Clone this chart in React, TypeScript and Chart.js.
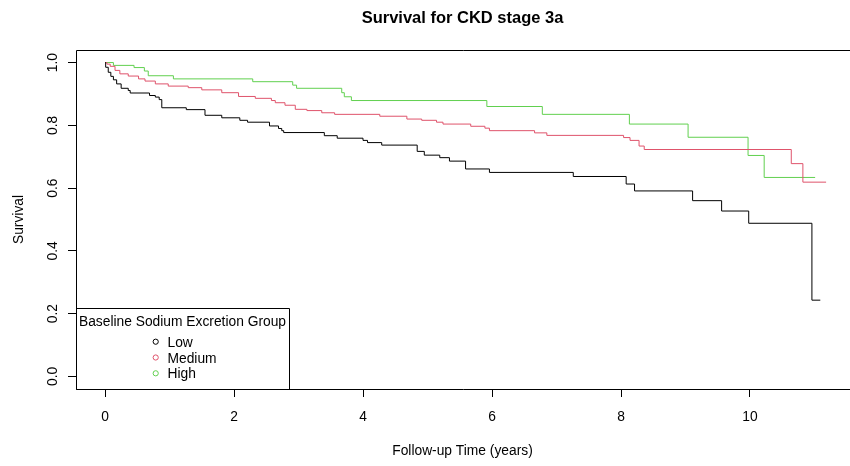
import React, { useEffect, useRef } from 'react';
import { Chart, registerables } from 'chart.js';

Chart.register(...registerables);

const chartTitle = 'Survival for CKD stage 3a';
const xAxisTitle = 'Follow-up Time (years)';
const yAxisTitle = 'Survival';
const legendTitle = 'Baseline Sodium Excretion Group';
const groupNames = ['Low', 'Medium', 'High'];
const groupColors = ['#000000', '#DF536B', '#61D04F'];
const xTickValues = [0, 2, 4, 6, 8, 10];
const yTickValues = [0, 0.2, 0.4, 0.6, 0.8, 1.0];

const lowTimes = [0, 0.01, 0.05, 0.09, 0.13, 0.18, 0.25, 0.36, 0.39, 0.69, 0.78, 0.84, 0.88, 1.26, 1.55, 1.81, 2.09, 2.21, 2.55, 2.69, 2.74, 2.77, 3.40, 3.60, 4.00, 4.07, 4.29, 4.84, 4.95, 5.19, 5.34, 5.59, 5.96, 7.26, 8.08, 8.21, 9.11, 9.56, 9.98, 10.96, 11.09];
const lowSurv = [1, 0.985, 0.969, 0.956, 0.945, 0.932, 0.918, 0.911, 0.903, 0.895, 0.890, 0.882, 0.856, 0.850, 0.832, 0.824, 0.816, 0.810, 0.798, 0.790, 0.783, 0.777, 0.767, 0.759, 0.752, 0.745, 0.737, 0.717, 0.705, 0.697, 0.686, 0.661, 0.650, 0.637, 0.613, 0.591, 0.560, 0.527, 0.488, 0.243, 0.243];

const mediumTimes = [0, 0.03, 0.08, 0.155, 0.23, 0.36, 0.52, 0.62, 0.78, 0.98, 1.29, 1.50, 1.81, 2.07, 2.33, 2.58, 2.64, 2.79, 2.95, 3.13, 3.36, 3.56, 4.26, 4.68, 4.91, 5.14, 5.24, 5.67, 5.89, 5.96, 6.66, 6.85, 8.04, 8.14, 8.28, 8.36, 10.64, 10.82, 11.18];
const mediumSurv = [1, 0.995, 0.988, 0.975, 0.964, 0.957, 0.948, 0.941, 0.932, 0.925, 0.920, 0.913, 0.904, 0.892, 0.886, 0.879, 0.872, 0.864, 0.851, 0.847, 0.840, 0.835, 0.829, 0.820, 0.816, 0.810, 0.804, 0.797, 0.791, 0.783, 0.776, 0.768, 0.761, 0.752, 0.734, 0.723, 0.678, 0.619, 0.619];

const highTimes = [0, 0.13, 0.45, 0.61, 0.67, 1.06, 2.29, 2.91, 2.97, 3.67, 3.71, 3.82, 5.92, 6.78, 8.13, 9.04, 9.97, 10.22, 11.01];
const highSurv = [1, 0.991, 0.984, 0.973, 0.958, 0.948, 0.939, 0.928, 0.918, 0.904, 0.891, 0.879, 0.860, 0.835, 0.804, 0.762, 0.704, 0.634, 0.634];

const FONT = '"Liberation Sans", Arial, Helvetica, sans-serif';

function toPoints(times: number[], surv: number[]) {
  return times.map((t, i) => ({ x: t, y: surv[i] }));
}

const decorPlugin = {
  id: 'decor',
  afterDraw(chart: any) {
    const ctx: CanvasRenderingContext2D = chart.ctx;
    const { left, top, right, bottom } = chart.chartArea;
    const xs = chart.scales.x;
    const ys = chart.scales.y;
    ctx.save();
    ctx.strokeStyle = '#000';
    ctx.lineWidth = 1;
    // plot box (right side lies beyond the picture)
    ctx.beginPath();
    ctx.moveTo(right + 30, top + 0.5);
    ctx.lineTo(left + 0.5, top + 0.5);
    ctx.lineTo(left + 0.5, bottom + 0.5);
    ctx.lineTo(right + 30, bottom + 0.5);
    ctx.stroke();

    ctx.fillStyle = '#000';
    // x tick labels
    ctx.font = `13.8px ${FONT}`;
    ctx.textAlign = 'center';
    ctx.textBaseline = 'alphabetic';
    xs.ticks.forEach((tk: any) => {
      ctx.fillText(String(tk.value), xs.getPixelForValue(tk.value), 421);
    });
    // y tick labels (rotated)
    ys.ticks.forEach((tk: any) => {
      ctx.save();
      ctx.translate(57, ys.getPixelForValue(tk.value));
      ctx.rotate(-Math.PI / 2);
      ctx.fillText(tk.value.toFixed(1), 0, 0);
      ctx.restore();
    });
    // axis titles
    ctx.fillText(xAxisTitle, (left + right) / 2, 455);
    ctx.save();
    ctx.translate(23, (top + bottom) / 2);
    ctx.rotate(-Math.PI / 2);
    ctx.fillText(yAxisTitle, 0, 0);
    ctx.restore();
    // main title
    ctx.font = `bold 16.5px ${FONT}`;
    ctx.fillText(chartTitle, (left + right) / 2, 23);

    // legend
    const lgRight = 289;
    const lgTop = 308;
    ctx.beginPath();
    ctx.rect(left + 0.5, lgTop + 0.5, lgRight - left, bottom - lgTop);
    ctx.stroke();
    ctx.font = `13.8px ${FONT}`;
    ctx.fillText(legendTitle, (left + lgRight) / 2, 326);
    ctx.textAlign = 'left';
    chart.data.datasets.forEach((ds: any, i: number) => {
      const cy = 341.7 + i * 15.8;
      ctx.beginPath();
      ctx.strokeStyle = ds.borderColor;
      ctx.arc(155.7, cy, 2.6, 0, Math.PI * 2);
      ctx.stroke();
      ctx.fillStyle = '#000';
      ctx.fillText(ds.label, 167.5, cy + 5);
    });
    ctx.restore();
  },
};

export default function App() {
  const canvasRef = useRef<HTMLCanvasElement | null>(null);

  useEffect(() => {
    if (!canvasRef.current) return;
    const series = [
      toPoints(lowTimes, lowSurv),
      toPoints(mediumTimes, mediumSurv),
      toPoints(highTimes, highSurv),
    ];
    const chart = new Chart(canvasRef.current, {
      type: 'line',
      data: {
        datasets: series.map((pts, i) => ({
          label: groupNames[i],
          data: pts,
          borderColor: groupColors[i],
          backgroundColor: groupColors[i],
          borderWidth: 1,
          pointRadius: 0,
          stepped: true,
          fill: false,
          tension: 0,
        })),
      },
      options: {
        responsive: false,
        animation: false,
        devicePixelRatio: 1,
        layout: { padding: { left: 0, right: 1, top: 50, bottom: 0 } },
        plugins: {
          legend: { display: false },
          title: { display: false },
          tooltip: { enabled: false },
        },
        scales: {
          x: {
            type: 'linear',
            min: -0.45,
            max: 11.535,
            afterBuildTicks: (s: any) => {
              s.ticks = xTickValues.map((v) => ({ value: v }));
            },
            afterFit: (s: any) => {
              s.height = 77;
            },
            ticks: { display: false },
            grid: { drawOnChartArea: false, drawTicks: true, tickLength: 8, color: '#000', lineWidth: 1 },
            border: { display: false },
          },
          y: {
            type: 'linear',
            min: -0.04,
            max: 1.04,
            afterBuildTicks: (s: any) => {
              s.ticks = yTickValues.map((v) => ({ value: v }));
            },
            afterFit: (s: any) => {
              s.width = 76;
            },
            ticks: { display: false },
            grid: { drawOnChartArea: false, drawTicks: true, tickLength: 8, color: '#000', lineWidth: 1 },
            border: { display: false },
          },
        },
      },
      plugins: [decorPlugin],
    } as any);
    return () => chart.destroy();
  }, []);

  return (
    <div style={{ position: 'fixed', left: 0, top: 0, width: 850, height: 466, background: '#fff' }}>
      <canvas ref={canvasRef} width={850} height={466} style={{ width: 850, height: 466, display: 'block' }} />
    </div>
  );
}
